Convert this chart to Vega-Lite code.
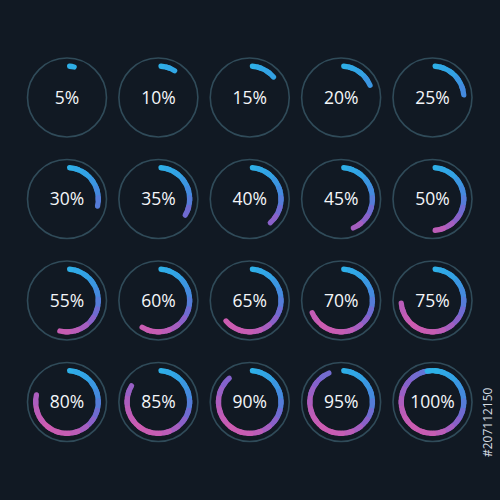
{
  "$schema": "https://vega.github.io/schema/vega-lite/v6.json",
  "width": 500,
  "height": 500,
  "autosize": {"type": "fit", "contains": "padding"},
  "padding": 0,
  "background": "#111923",
  "config": {"view": {"stroke": null}},
  "datasets": {
    "circles": [
      {"c": 0, "r": 0, "t": "5%"}, {"c": 1, "r": 0, "t": "10%"}, {"c": 2, "r": 0, "t": "15%"}, {"c": 3, "r": 0, "t": "20%"}, {"c": 4, "r": 0, "t": "25%"},
      {"c": 0, "r": 1, "t": "30%"}, {"c": 1, "r": 1, "t": "35%"}, {"c": 2, "r": 1, "t": "40%"}, {"c": 3, "r": 1, "t": "45%"}, {"c": 4, "r": 1, "t": "50%"},
      {"c": 0, "r": 2, "t": "55%"}, {"c": 1, "r": 2, "t": "60%"}, {"c": 2, "r": 2, "t": "65%"}, {"c": 3, "r": 2, "t": "70%"}, {"c": 4, "r": 2, "t": "75%"},
      {"c": 0, "r": 3, "t": "80%"}, {"c": 1, "r": 3, "t": "85%"}, {"c": 2, "r": 3, "t": "90%"}, {"c": 3, "r": 3, "t": "95%"}, {"c": 4, "r": 3, "t": "100%"}
    ],
    "arcs": [
      {"c": 0, "r": 0, "a": [0], "b": [5], "m": [2.5]},
      {"c": 1, "r": 0, "a": [0,3], "b": [7,10], "m": [2.5,7.5]},
      {"c": 2, "r": 0, "a": [0,3,8], "b": [7,12,15], "m": [2.5,7.5,12.5]},
      {"c": 3, "r": 0, "a": [0,3,8,13], "b": [7,12,17,20], "m": [2.5,7.5,12.5,17.5]},
      {"c": 4, "r": 0, "a": [0,3,8,13,18], "b": [7,12,17,22,25], "m": [2.5,7.5,12.5,17.5,22.5]},
      {"c": 0, "r": 1, "a": [0,3,8,13,18,23], "b": [7,12,17,22,27,30], "m": [2.5,7.5,12.5,17.5,22.5,27.5]},
      {"c": 1, "r": 1, "a": [0,3,8,13,18,23,28], "b": [7,12,17,22,27,32,35], "m": [2.5,7.5,12.5,17.5,22.5,27.5,32.5]},
      {"c": 2, "r": 1, "a": [0,3,8,13,18,23,28,33], "b": [7,12,17,22,27,32,37,40], "m": [2.5,7.5,12.5,17.5,22.5,27.5,32.5,37.5]},
      {"c": 3, "r": 1, "a": [0,3,8,13,18,23,28,33,38], "b": [7,12,17,22,27,32,37,42,45], "m": [2.5,7.5,12.5,17.5,22.5,27.5,32.5,37.5,42.5]},
      {"c": 4, "r": 1, "a": [0,3,8,13,18,23,28,33,38,43], "b": [7,12,17,22,27,32,37,42,47,50], "m": [2.5,7.5,12.5,17.5,22.5,27.5,32.5,37.5,42.5,47.5]},
      {"c": 0, "r": 2, "a": [0,3,8,13,18,23,28,33,38,43,48], "b": [7,12,17,22,27,32,37,42,47,52,55], "m": [2.5,7.5,12.5,17.5,22.5,27.5,32.5,37.5,42.5,47.5,52.5]},
      {"c": 1, "r": 2, "a": [0,3,8,13,18,23,28,33,38,43,48,53], "b": [7,12,17,22,27,32,37,42,47,52,57,60], "m": [2.5,7.5,12.5,17.5,22.5,27.5,32.5,37.5,42.5,47.5,52.5,57.5]},
      {"c": 2, "r": 2, "a": [0,3,8,13,18,23,28,33,38,43,48,53,58], "b": [7,12,17,22,27,32,37,42,47,52,57,62,65], "m": [2.5,7.5,12.5,17.5,22.5,27.5,32.5,37.5,42.5,47.5,52.5,57.5,62.5]},
      {"c": 3, "r": 2, "a": [0,3,8,13,18,23,28,33,38,43,48,53,58,63], "b": [7,12,17,22,27,32,37,42,47,52,57,62,67,70], "m": [2.5,7.5,12.5,17.5,22.5,27.5,32.5,37.5,42.5,47.5,52.5,57.5,62.5,67.5]},
      {"c": 4, "r": 2, "a": [0,3,8,13,18,23,28,33,38,43,48,53,58,63,68], "b": [7,12,17,22,27,32,37,42,47,52,57,62,67,72,75], "m": [2.5,7.5,12.5,17.5,22.5,27.5,32.5,37.5,42.5,47.5,52.5,57.5,62.5,67.5,72.5]},
      {"c": 0, "r": 3, "a": [0,3,8,13,18,23,28,33,38,43,48,53,58,63,68,73], "b": [7,12,17,22,27,32,37,42,47,52,57,62,67,72,77,80], "m": [2.5,7.5,12.5,17.5,22.5,27.5,32.5,37.5,42.5,47.5,52.5,57.5,62.5,67.5,72.5,77.5]},
      {"c": 1, "r": 3, "a": [0,3,8,13,18,23,28,33,38,43,48,53,58,63,68,73,78], "b": [7,12,17,22,27,32,37,42,47,52,57,62,67,72,77,82,85], "m": [2.5,7.5,12.5,17.5,22.5,27.5,32.5,37.5,42.5,47.5,52.5,57.5,62.5,67.5,72.5,77.5,82.5]},
      {"c": 2, "r": 3, "a": [0,3,8,13,18,23,28,33,38,43,48,53,58,63,68,73,78,83], "b": [7,12,17,22,27,32,37,42,47,52,57,62,67,72,77,82,87,90], "m": [2.5,7.5,12.5,17.5,22.5,27.5,32.5,37.5,42.5,47.5,52.5,57.5,62.5,67.5,72.5,77.5,82.5,87.5]},
      {"c": 3, "r": 3, "a": [0,3,8,13,18,23,28,33,38,43,48,53,58,63,68,73,78,83,88], "b": [7,12,17,22,27,32,37,42,47,52,57,62,67,72,77,82,87,92,95], "m": [2.5,7.5,12.5,17.5,22.5,27.5,32.5,37.5,42.5,47.5,52.5,57.5,62.5,67.5,72.5,77.5,82.5,87.5,92.5]},
      {"c": 4, "r": 3, "a": [0,3,8,13,18,23,28,33,38,43,48,53,58,63,68,73,78,83,88,93,96], "b": [7,12,17,22,27,32,37,42,47,52,57,62,67,72,77,82,87,92,97,100,104], "m": [2.5,7.5,12.5,17.5,22.5,27.5,32.5,37.5,42.5,47.5,52.5,57.5,62.5,67.5,72.5,77.5,82.5,87.5,92.5,97.5,0]}
    ],
    "ids": [{"c": 4.61, "r": 3.2, "t": "#207112150"}]
  },
  "layer": [
    {
      "data": {"name": "circles"},
      "mark": {"type": "point", "shape": "circle", "filled": false, "size": 6241, "stroke": "#304b59", "strokeWidth": 1.6, "opacity": 1},
      "encoding": {
        "x": {"field": "c", "type": "quantitative", "scale": {"domain": [-0.7332, 4.7387]}, "axis": null},
        "y": {"field": "r", "type": "quantitative", "scale": {"domain": [-0.9606, 3.9655], "reverse": true}, "axis": null}
      }
    },
    {
      "data": {"name": "arcs"},
      "transform": [{"flatten": ["a", "b", "m"]}],
      "mark": {"type": "arc", "innerRadius": 28.7, "outerRadius": 34, "cornerRadius": 2.65},
      "encoding": {
        "x": {"field": "c", "type": "quantitative", "scale": {"domain": [-0.7332, 4.7387]}, "axis": null},
        "y": {"field": "r", "type": "quantitative", "scale": {"domain": [-0.9606, 3.9655], "reverse": true}, "axis": null},
        "theta": {"field": "a", "type": "quantitative", "stack": null, "scale": {"domain": [0, 100], "range": [0, 6.283185307]}},
        "theta2": {"field": "b"},
        "color": {
          "field": "m", "type": "quantitative", "legend": null,
          "scale": {
            "domain": [0, 12.5, 25, 35, 45, 50, 62.5, 75, 87.5, 100],
            "range": ["#2db2e8", "#33a2e4", "#4884dc", "#7c62cd", "#b25cbc", "#c55db4", "#cc5cb1", "#b65cba", "#8462cc", "#5a7ad8"],
            "interpolate": "rgb"
          }
        }
      }
    },
    {
      "data": {"name": "circles"},
      "mark": {"type": "text", "font": "Open Sans", "fontSize": 17.5, "color": "#f4f6f9", "align": "center", "baseline": "middle", "dy": 1},
      "encoding": {
        "x": {"field": "c", "type": "quantitative", "scale": {"domain": [-0.7332, 4.7387]}, "axis": null},
        "y": {"field": "r", "type": "quantitative", "scale": {"domain": [-0.9606, 3.9655], "reverse": true}, "axis": null},
        "text": {"field": "t"}
      }
    },
    {
      "data": {"name": "ids"},
      "mark": {"type": "text", "font": "Open Sans", "fontSize": 12, "color": "#d6dce2", "align": "center", "baseline": "middle", "angle": 270},
      "encoding": {
        "x": {"field": "c", "type": "quantitative", "scale": {"domain": [-0.7332, 4.7387]}, "axis": null},
        "y": {"field": "r", "type": "quantitative", "scale": {"domain": [-0.9606, 3.9655], "reverse": true}, "axis": null},
        "text": {"field": "t"}
      }
    }
  ]
}
